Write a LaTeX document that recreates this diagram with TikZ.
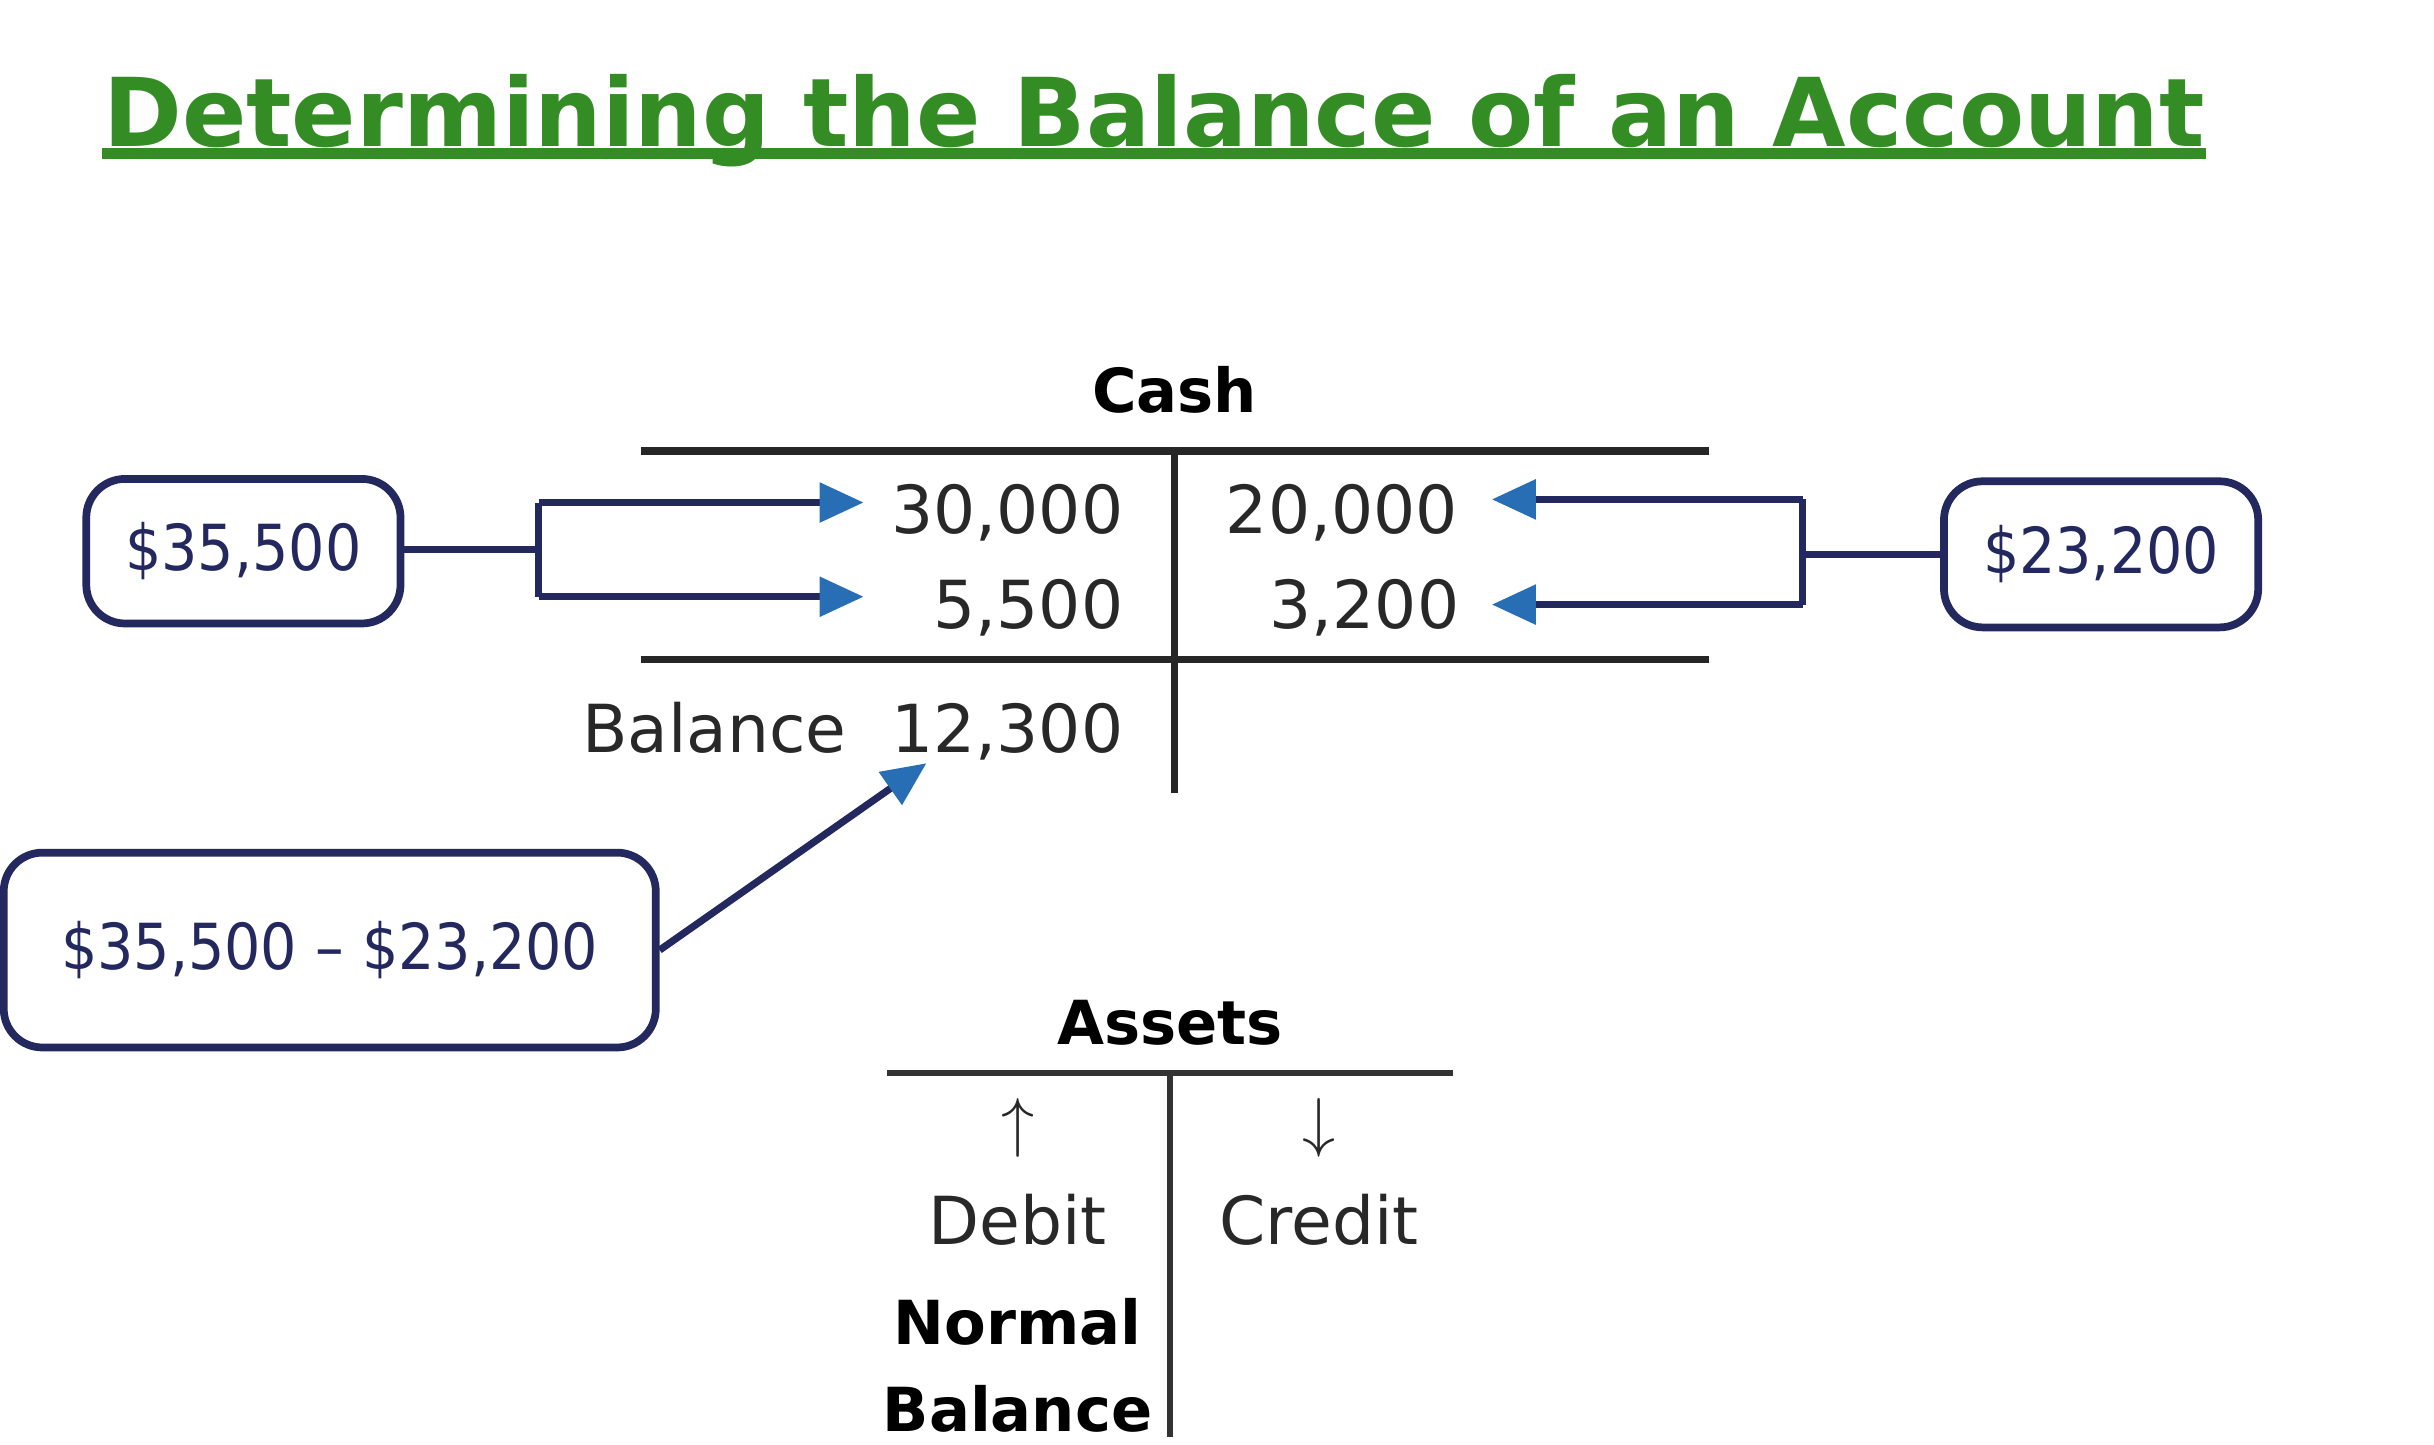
\documentclass[tikz,border=0pt]{standalone}
\usepackage{fontspec}
\setmainfont{DejaVu Sans}
\newfontfamily\narrowf{DejaVu Sans Condensed}
\usetikzlibrary{arrows.meta}
\definecolor{ttl}{RGB}{52,140,36}
\definecolor{navy}{RGB}{35,40,95}
\definecolor{tipblue}{RGB}{40,110,180}
\definecolor{txt}{RGB}{40,40,40}
\tikzset{
  acct/.style={font=\fontsize{12}{14}\selectfont, text=txt, inner sep=0pt},
  hd/.style={font=\bfseries\fontsize{11}{13}\selectfont, text=black, inner sep=0pt},
  tline/.style={line width=1.4pt, black!85},
  lbox/.style={draw=navy, line width=1.4pt, rounded corners=7pt, text=navy,
    font=\narrowf\fontsize{11.5}{13}\selectfont, inner sep=0pt},
  conn/.style={navy, line width=1.3pt},
  arr/.style={navy, line width=1.3pt, -{Triangle[length=8pt,width=7pt,fill=tipblue,color=tipblue]}},
}
\begin{document}
\begin{tikzpicture}[x=0.01cm,y=-0.01cm]
\useasboundingbox (0,0) rectangle (1550,920);
\node[anchor=base west, text=ttl, font=\bfseries\fontsize{17.2}{19}\selectfont, inner sep=0pt] (title) at (65,93) {Determining the Balance of an Account};
\draw[ttl, line width=2pt] (65,98) -- (title.east |- 0,98);
% Cash T-account
\node[hd] (cash) at (748,248) {Cash};
\draw[tline] (408,287) -- (1088,287);
\draw[tline] (408,420) -- (1088,420);
\draw[tline] (748,287) -- (748,505);
\node[acct, anchor=base east] (d1) at (716,340) {30,000};
\node[acct, anchor=base east] (d2) at (716,400) {5,500};
\node[acct, anchor=base west] (c1) at (780,340) {20,000};
\node[acct, anchor=base east] (c2) at (930,400) {3,200};
\node[acct, anchor=base west] (bl) at (370,479) {Balance};
\node[acct, anchor=base east] (bv) at (716,479) {12,300};
% boxes
\node[lbox, minimum width=2cm, minimum height=0.92cm] (b1) at (155,351) {\$35,500};
\node[lbox, minimum width=2cm, minimum height=0.93cm] (b2) at (1338,353) {\$23,200};
\node[lbox, minimum width=4.15cm, minimum height=1.24cm] (b3) at (210,605) {\$35,500 \textendash{} \$23,200};
\coordinate (j1) at (343,350);
\coordinate (j2) at (1148,353);
\coordinate (a1) at (550,320);
\coordinate (a2) at (550,380);
\coordinate (a3) at (950,318);
\coordinate (a4) at (950,385);
\coordinate (a5) at (590,486);
\draw[conn] (b1.east |- j1) -- (j1);
\draw[conn] (343,320) -- (343,380);
\draw[arr] (343,320) -- (a1);
\draw[arr] (343,380) -- (a2);
\draw[conn] (b2.west |- j2) -- (j2);
\draw[conn] (1148,318) -- (1148,385);
\draw[arr] (1148,318) -- (a3);
\draw[arr] (1148,385) -- (a4);
\draw[arr] (b3.east) -- (a5);
% Assets
\node[hd] (as) at (745,651) {Assets};
\draw[line width=1.1pt, black!80] (565,683) -- (925,683);
\draw[line width=1.1pt, black!80] (745,683) -- (745,915);
\node[acct] (up) at (648,718) {$\uparrow$};
\node[acct] (dn) at (840,718) {$\downarrow$};
\node[acct] (deb) at (648,777) {Debit};
\node[acct] (cre) at (840,777) {Credit};
\node[hd] (nb1) at (648,842) {Normal};
\node[hd] (nb2) at (648,897) {Balance};
\end{tikzpicture}
\end{document}
